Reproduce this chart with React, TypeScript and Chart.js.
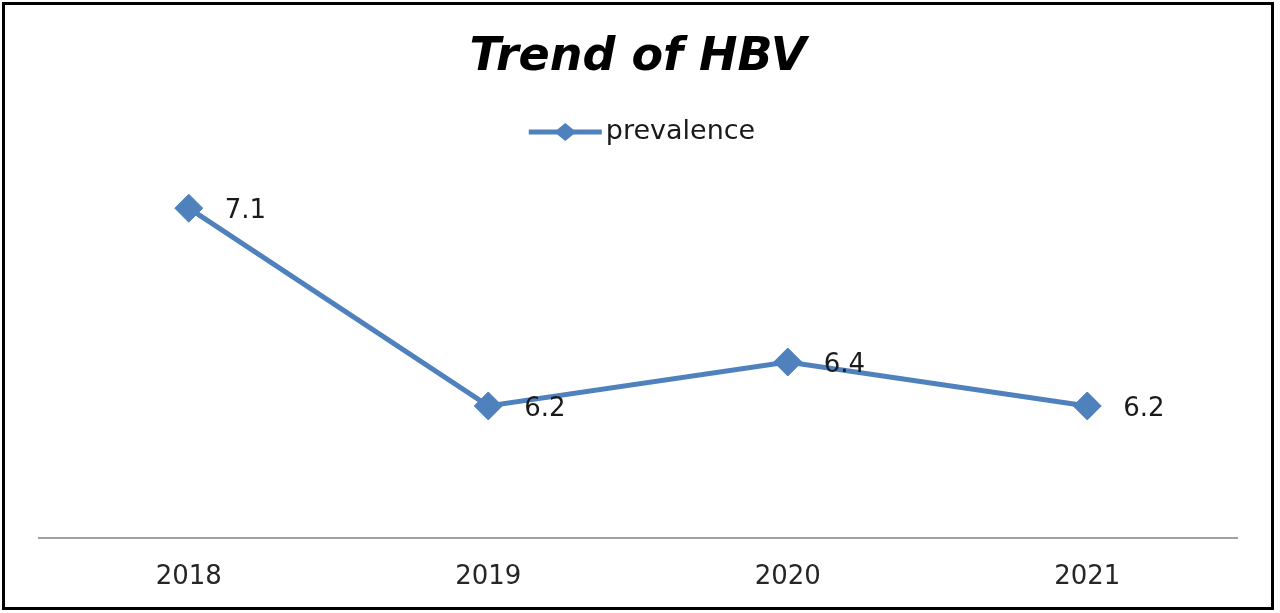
import { useEffect, useRef } from "react";
import { Chart, registerables } from "chart.js";

Chart.register(...registerables);

const years = ["2018", "2019", "2020", "2021"];
const prevalence = [7.1, 6.2, 6.4, 6.2];
const seriesLabel = "prevalence";
const chartTitle = "Trend of HBV";
const yMin = 5.6;
const yMax = 7.2;

const BLUE = "#4F81BD";
const FONT = "'DejaVu Sans', sans-serif";

const dataLabelPlugin = {
  id: "dataLabels",
  afterDatasetsDraw(chart: any) {
    const ctx = chart.ctx;
    const meta = chart.getDatasetMeta(0);
    const values = chart.data.datasets[0].data;
    ctx.save();
    ctx.font = `26px ${FONT}`;
    ctx.fillStyle = "#1a1a1a";
    ctx.textAlign = "left";
    ctx.textBaseline = "middle";
    meta.data.forEach((pt: any, i: number) => {
      ctx.fillText(String(values[i]), pt.x + 36, pt.y + 3);
    });
    ctx.restore();
  },
};

const legendPlugin = {
  id: "customLegend",
  afterDraw(chart: any) {
    const ctx = chart.ctx;
    const ds = chart.data.datasets[0];
    ctx.save();
    ctx.font = `27px ${FONT}`;
    const tw = ctx.measureText(ds.label).width;
    const lineLen = 73;
    const gap = 4;
    const total = lineLen + gap + tw;
    const x0 = chart.width / 2 - total / 2 + 2;
    const y = 132;
    ctx.strokeStyle = ds.borderColor;
    ctx.lineWidth = 5;
    ctx.beginPath();
    ctx.moveTo(x0, y);
    ctx.lineTo(x0 + lineLen, y);
    ctx.stroke();
    const cx = x0 + lineLen / 2;
    ctx.fillStyle = ds.borderColor;
    ctx.beginPath();
    ctx.moveTo(cx, y - 9);
    ctx.lineTo(cx + 11, y);
    ctx.lineTo(cx, y + 9);
    ctx.lineTo(cx - 11, y);
    ctx.closePath();
    ctx.fill();
    ctx.fillStyle = "#1a1a1a";
    ctx.textAlign = "left";
    ctx.textBaseline = "middle";
    ctx.fillText(ds.label, x0 + lineLen + gap, y);
    ctx.restore();
  },
};

export default function App() {
  const canvasRef = useRef<HTMLCanvasElement | null>(null);

  useEffect(() => {
    if (!canvasRef.current) return;
    const chart = new Chart(canvasRef.current, {
      type: "line",
      data: {
        labels: years,
        datasets: [
          {
            label: seriesLabel,
            data: prevalence,
            borderColor: BLUE,
            backgroundColor: BLUE,
            borderWidth: 5,
            pointStyle: "rectRot",
            pointRadius: 14,
            pointBorderWidth: 1,
            pointBackgroundColor: BLUE,
            pointBorderColor: BLUE,
            tension: 0,
            fill: false,
          },
        ],
      },
      options: {
        animation: false,
        responsive: false,
        maintainAspectRatio: false,
        layout: { padding: { left: 39, right: 43, top: 0, bottom: 4 } },
        plugins: {
          legend: { display: false },
          tooltip: { enabled: false },
          title: {
            display: true,
            text: chartTitle,
            color: "#000000",
            font: { family: FONT, size: 46, weight: "bold", style: "italic", lineHeight: 1.2 },
            padding: { top: 30, bottom: 101 },
          },
        },
        scales: {
          x: {
            offset: true,
            grid: { display: false },
            border: { display: true, color: "#a0a0a0", width: 2 },
            ticks: {
              color: "#262626",
              padding: 16,
              font: { family: FONT, size: 26 },
            },
          },
          y: {
            display: false,
            min: yMin,
            max: yMax,
          },
        },
      },
      plugins: [dataLabelPlugin, legendPlugin],
    });
    return () => chart.destroy();
  }, []);

  return (
    <div style={{ position: "fixed", left: 0, top: 0, width: 1280, height: 613, background: "#ffffff" }}>
      <div
        style={{
          position: "absolute",
          left: 2,
          top: 2,
          width: 1272,
          height: 608,
          border: "3px solid #000000",
          boxSizing: "border-box",
        }}
      />
      <canvas
        ref={canvasRef}
        width={1280}
        height={613}
        style={{ position: "absolute", left: 0, top: 0, width: 1280, height: 613 }}
      />
    </div>
  );
}
